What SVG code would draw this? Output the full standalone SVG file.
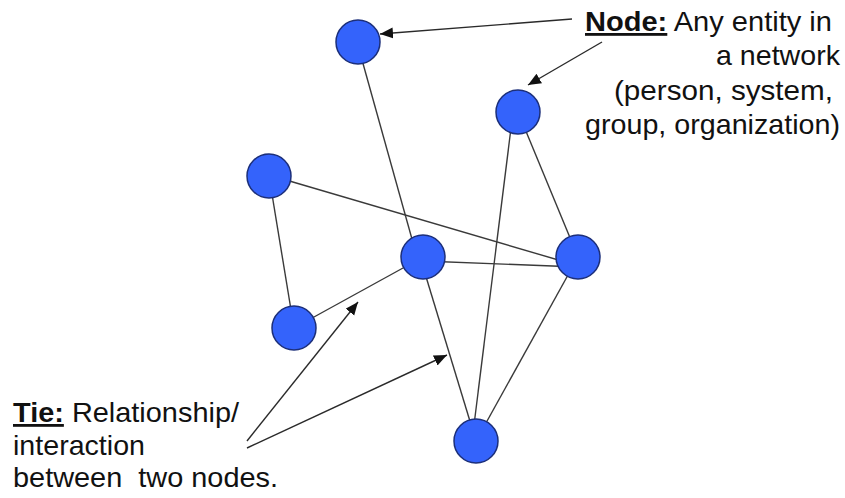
<svg xmlns="http://www.w3.org/2000/svg" width="845" height="498" viewBox="0 0 845 498">
  <style>
    .tie { stroke: #3a3a3a; stroke-width: 1.4; fill: none; }
    .pointer { stroke: #2a2a2a; stroke-width: 1.4; fill: none; marker-end: url(#head); }
    .node { fill: #3463fb; stroke: #1c2f7a; stroke-width: 1.5; }
    .label { font-family: "Liberation Sans", Arial, sans-serif; font-size: 28px; fill: #111; }
    .key { font-weight: bold; text-decoration: underline; }
  </style>
  <defs>
    <marker id="head" markerUnits="userSpaceOnUse" markerWidth="14" markerHeight="12" refX="13" refY="5.5" orient="auto">
      <path d="M0,0 L13,5.5 L0,11 z" fill="#111"/>
    </marker>
  </defs>
  <rect width="845" height="498" fill="#fff"/>

  <!-- ties between nodes -->
  <g id="connectors">
    <line class="tie" x1="357" y1="42" x2="417" y2="257"/>
    <line class="tie" x1="269" y1="176" x2="294" y2="328"/>
    <line class="tie" x1="269" y1="175" x2="572" y2="264"/>
    <line class="tie" x1="294" y1="328" x2="423" y2="257"/>
    <line class="tie" x1="423" y1="261" x2="578" y2="267"/>
    <line class="tie" x1="518" y1="112" x2="578" y2="257"/>
    <line class="tie" x1="513" y1="112" x2="472" y2="441"/>
    <line class="tie" x1="420" y1="257" x2="476" y2="441"/>
    <line class="tie" x1="578" y1="257" x2="476" y2="441"/>
    <!-- annotation pointers -->
    <line class="pointer" x1="572" y1="19" x2="380" y2="34"/>
    <line class="pointer" x1="602" y1="42" x2="528" y2="85"/>
    <line class="pointer" x1="247" y1="441" x2="358" y2="302"/>
    <line class="pointer" x1="247" y1="448" x2="447" y2="355"/>
  </g>

  <g id="node-a"><circle class="node" cx="358" cy="42" r="22"/></g>
  <g id="node-b"><circle class="node" cx="518" cy="112" r="22"/></g>
  <g id="node-c"><circle class="node" cx="269" cy="176" r="22"/></g>
  <g id="node-d"><circle class="node" cx="423" cy="257" r="22"/></g>
  <g id="node-e"><circle class="node" cx="578" cy="257" r="22"/></g>
  <g id="node-f"><circle class="node" cx="294" cy="328" r="22"/></g>
  <g id="node-g"><circle class="node" cx="476" cy="441" r="22"/></g>

  <!-- definition of a node -->
  <g id="node-caption" class="label">
    <text x="585" y="31" textLength="247" lengthAdjust="spacingAndGlyphs"><tspan class="key">Node:</tspan> Any entity in</text>
    <text x="716" y="65" textLength="124" lengthAdjust="spacingAndGlyphs">a network</text>
    <text x="614" y="100" textLength="219" lengthAdjust="spacingAndGlyphs">(person, system,</text>
    <text x="585" y="134" textLength="255" lengthAdjust="spacingAndGlyphs">group, organization)</text>
  </g>

  <!-- definition of a tie -->
  <g id="tie-caption" class="label">
    <text x="13" y="422" textLength="226" lengthAdjust="spacingAndGlyphs"><tspan class="key">Tie:</tspan> Relationship/</text>
    <text x="13" y="455" textLength="132" lengthAdjust="spacingAndGlyphs">interaction</text>
    <text x="13" y="487" textLength="265" lengthAdjust="spacingAndGlyphs" xml:space="preserve">between  two nodes.</text>
  </g>
</svg>
